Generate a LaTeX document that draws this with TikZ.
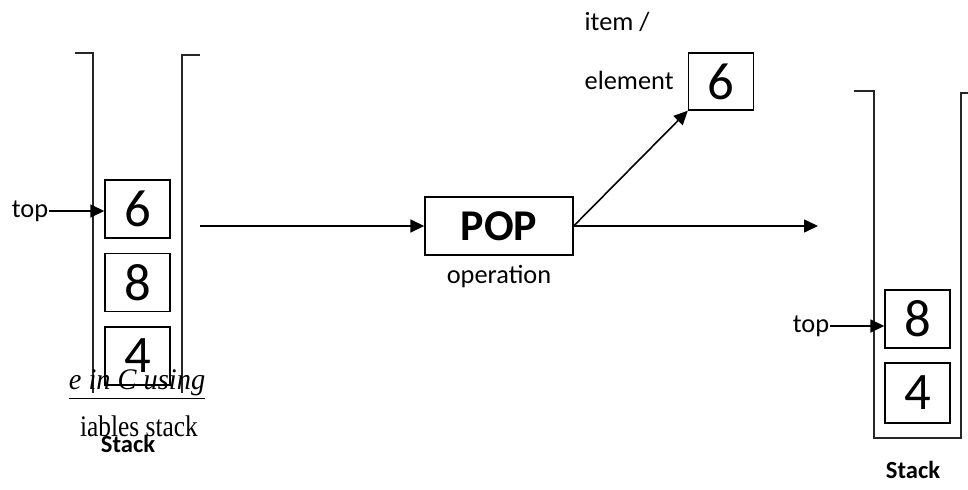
\documentclass[tikz,border=0pt]{standalone}
\usepackage{fontspec}
\setmainfont{Carlito}
\newfontfamily\serifovl{Liberation Serif}
\usetikzlibrary{arrows.meta, positioning}

\begin{document}
\begin{tikzpicture}[x=0.02cm, y=-0.02cm, line width=0.8pt,
  every node/.style={font=\fontsize{15}{17}\selectfont, inner sep=0pt},
  cell/.style={draw, line width=0.8pt, minimum width=1.3cm, minimum height=1.16cm,
    font=\fontsize{30}{32}\selectfont},
  ptr/.style={-{Triangle[length=2.8mm, width=2.6mm]}, line width=0.9pt},
  wall/.style={line width=0.8pt, black!85}]

\useasboundingbox (0,0) rectangle (968,490);

% Stack before pop
\draw[wall] (75,53) -- (93,53) -- (93,393);
\draw[wall] (200,55) -- (182,55) -- (182,393);
\node[cell] (s6) at (137.5,209) {6};
\node[cell] (s8) at (137.5,282.5) {8};
\node[cell] (s4) at (137.5,356) {4};
\node (topL) at (30,211) {top};
\draw[ptr] (topL.east) -- (s6.west |- topL.east);

% page text showing through
\node[font=\serifovl\itshape\fontsize{17}{18}\selectfont, xscale=0.95] (ovlA) at (137,385) {\underline{e in C using}};
\node[font=\serifovl\fontsize{17}{18}\selectfont, xscale=0.85] (ovlB) at (139,426) {iables stack};
\node[font=\bfseries\fontsize{14}{15}\selectfont] (stackL) at (128,444) {Stack};

% POP operation
\node[draw, line width=0.8pt, minimum width=2.96cm, minimum height=1.16cm,
  font=\bfseries\fontsize{25}{27}\selectfont] (pop) at (499,226) {POP};
\node (oper) at (499,277) {operation};
\coordinate (inL) at (200,226);
\coordinate (outR) at (818,226);
\draw[ptr] (inL) -- (pop.west);
\draw[ptr] (pop.east) -- (outR);

% popped item
\node[cell, minimum height=1.14cm] (item) at (721,81.5) {6};
\node[anchor=west] (itemlbl) at (584,22) {item /};
\node[anchor=west] (elemlbl) at (584,80) {element};
\draw[ptr] (pop.east) -- (item.south west);

% Stack after pop
\draw[wall] (854,91) -- (874,91) -- (874,438) -- (961,438) -- (961,93) -- (968,93);
\node[cell] (r8) at (917.5,319) {8};
\node[cell, minimum height=1.2cm] (r4) at (917.5,393) {4};
\node (topR) at (811,326) {top};
\draw[ptr] (topR.east) -- (r8.west |- topR.east);
\node[font=\bfseries\fontsize{14}{15}\selectfont] (stackR) at (913,470) {Stack};

\end{tikzpicture}
\end{document}
